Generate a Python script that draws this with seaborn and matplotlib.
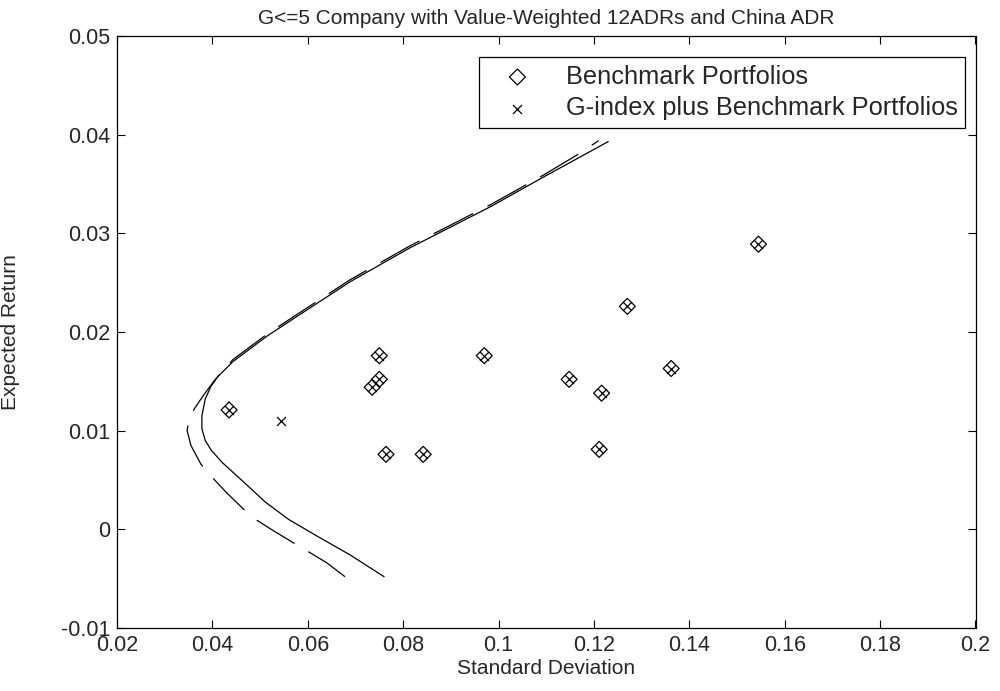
import matplotlib
matplotlib.use("Agg")
import matplotlib.pyplot as plt
from matplotlib import font_manager
from matplotlib.ticker import FixedLocator, FixedFormatter
import seaborn as sns

# Efficient frontier, benchmark assets only (solid)
solid_sd = [0.0760, 0.0689, 0.0620, 0.0560, 0.0510, 0.0479, 0.0445, 0.0420,
            0.0398, 0.0385, 0.0378, 0.0378, 0.0385, 0.0397, 0.0412, 0.0443,
            0.0515, 0.0578, 0.0689, 0.0813, 0.0983, 0.1094, 0.1230]
solid_ret = [-0.0048, -0.0026, -0.0007, 0.0010, 0.0028, 0.0042, 0.0057, 0.0068,
             0.0080, 0.0090, 0.0102, 0.0115, 0.0132, 0.0145, 0.0155, 0.0170,
             0.0196, 0.0216, 0.0251, 0.0285, 0.0327, 0.0357, 0.0393]

# Efficient frontier with the G-index portfolio added (dashed)
dash_sd = [0.0678, 0.0640, 0.0599, 0.0571, 0.0530, 0.0494, 0.0464, 0.0430,
           0.0397, 0.0376, 0.0355, 0.0347, 0.0350, 0.0362, 0.0380, 0.0406,
           0.0443, 0.0515, 0.0578, 0.0689, 0.0813, 0.0983, 0.1094, 0.1170, 0.1210]
dash_ret = [-0.0048, -0.0034, -0.0022, -0.0014, -0.0002, 0.0009, 0.0021, 0.0037,
            0.0054, 0.0066, 0.0085, 0.0100, 0.0110, 0.0122, 0.0135, 0.0152,
            0.0172, 0.0198, 0.0218, 0.0253, 0.0287, 0.0329, 0.0359, 0.0381, 0.0394]

# Benchmark portfolios (12 ADRs + China ADR)
bench_sd = [0.0435, 0.0735, 0.0750, 0.0750, 0.0764, 0.0842, 0.0970,
            0.1148, 0.1216, 0.1211, 0.1270, 0.1362, 0.1545]
bench_ret = [0.0121, 0.0144, 0.0152, 0.0176, 0.0076, 0.0076, 0.0176,
             0.0152, 0.0138, 0.0081, 0.0226, 0.0163, 0.0289]

# G-index portfolio
gidx_sd = [0.0544]
gidx_ret = [0.0110]

x_ticks = [0.02, 0.04, 0.06, 0.08, 0.10, 0.12, 0.14, 0.16, 0.18, 0.20]
x_labels = ["0.02", "0.04", "0.06", "0.08", "0.1", "0.12", "0.14", "0.16", "0.18", "0.2"]
y_ticks = [-0.01, 0.0, 0.01, 0.02, 0.03, 0.04, 0.05]
y_labels = ["-0.01", "0", "0.01", "0.02", "0.03", "0.04", "0.05"]

title = "G<=5 Company with Value-Weighted 12ADRs and China ADR"
x_title = "Standard Deviation"
y_title = "Expected Return"
legend_labels = ["Benchmark Portfolios", "G-index plus Benchmark Portfolios"]

sns.set_theme(style="white")
installed = {f.name for f in font_manager.fontManager.ttflist}
narrow = "Liberation Sans Narrow" if "Liberation Sans Narrow" in installed else "Liberation Sans"
plt.rcParams["font.family"] = ["Liberation Sans", "DejaVu Sans"]
plt.rcParams["lines.scale_dashes"] = False

fig = plt.figure(figsize=(10, 6.91), dpi=100)
fig.patch.set_facecolor("white")
ax = fig.add_axes([0.117, 1 - 628 / 691, 0.8585, (628 - 36) / 691])
ax.set_facecolor("white")

sns.lineplot(x=solid_sd, y=solid_ret, sort=False, estimator=None,
             color="black", linewidth=0.9, ax=ax)
sns.lineplot(x=dash_sd, y=dash_ret, sort=False, estimator=None,
             color="black", linewidth=0.9, linestyle=(0, (32, 11.5)), ax=ax)

all_sd = bench_sd + gidx_sd
all_ret = bench_ret + gidx_ret
sns.scatterplot(x=bench_sd, y=bench_ret, marker="D", s=66, facecolor="none",
                edgecolor="black", linewidth=0.9, label=legend_labels[0], ax=ax)
sns.scatterplot(x=all_sd, y=all_ret, marker="x", s=42, color="black",
                linewidth=0.9, label=legend_labels[1], ax=ax)

ax.set_xlim(0.02, 0.2)
ax.set_ylim(-0.01, 0.05)
ax.xaxis.set_major_locator(FixedLocator(x_ticks))
ax.xaxis.set_major_formatter(FixedFormatter(x_labels))
ax.yaxis.set_major_locator(FixedLocator(y_ticks))
ax.yaxis.set_major_formatter(FixedFormatter(y_labels))
ax.tick_params(direction="in", length=6, width=0.8, color="black",
               top=True, right=True, bottom=True, left=True, pad=5)
for lab in ax.get_xticklabels():
    lab.set_family([narrow, "Liberation Sans"])
    lab.set_fontsize(15.5)
for lab in ax.get_yticklabels():
    lab.set_fontsize(15.5)
for sp in ax.spines.values():
    sp.set_visible(True)
    sp.set_color("black")
    sp.set_linewidth(0.9)

ax.set_xlabel(x_title, family=[narrow, "Liberation Sans"], fontsize=15, labelpad=2)
ax.set_ylabel(y_title, family=[narrow, "Liberation Sans"], fontsize=15)
ax.yaxis.set_label_coords(-0.113, 0.5)
ax.set_title(title, family=[narrow, "Liberation Sans"], fontsize=15, pad=9)

leg = ax.legend(loc="upper right", bbox_to_anchor=(0.988, 0.9645), fontsize=18.3,
                frameon=True, fancybox=False, framealpha=1, edgecolor="black",
                borderpad=0.3, handlelength=2.4, handletextpad=0.7,
                labelspacing=0.3, borderaxespad=0)
leg.get_frame().set_linewidth(0.9)

fig.savefig("out.png", dpi=100, facecolor="white")
